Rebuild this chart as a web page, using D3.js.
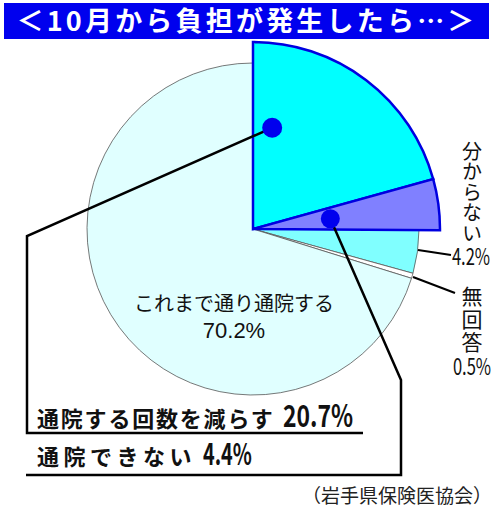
<!DOCTYPE html>
<html>
<head>
<meta charset="utf-8">
<script src="https://cdn.jsdelivr.net/npm/d3@7"></script>
<style>
  body { margin: 0; background: #fff; }
  text { font-family: "Noto Sans CJK JP", sans-serif; }
</style>
</head>
<body>
<div id="chart"></div>
<script>
const categories = ["通院する回数を減らす", "通院できない", "分からない", "無回答", "これまで通り通院する"];
const values = [20.7, 4.4, 4.2, 0.5, 70.2];
const colors = ["#00ffff", "#8080ff", "#80ffff", "#ffffff", "#e0ffff"];
const title = "＜10月から負担が発生したら…＞";
const source = "（岩手県保険医協会）";

const width = 500;
const height = 509;
const cx = 253, cy = 229;
const radius = 166, radiusOut = 187;

const svg = d3.select("#chart")
  .append("svg")
  .attr("width", width)
  .attr("height", height);

// title bar
svg.append("rect")
  .attr("x", 4).attr("y", 3)
  .attr("width", 485).attr("height", 36)
  .attr("fill", "#0000ee");
svg.append("text")
  .attr("x", 247).attr("y", 31)
  .attr("text-anchor", "middle")
  .attr("fill", "#fff")
  .attr("font-size", 27)
  .attr("font-weight", 700)
  .attr("letter-spacing", 3.2)
  .text(title);

const pie = d3.pie().sort(null).value(d => d);
const arcs = pie(values);
const arcIn = d3.arc().innerRadius(0).outerRadius(radius);
const arcOut = d3.arc().innerRadius(0).outerRadius(radiusOut);

const g = svg.append("g").attr("transform", `translate(${cx},${cy})`);

// normal slices first, then the two enlarged ones on top
const small = arcs.filter(d => d.index > 1);
const big = arcs.filter(d => d.index <= 1);

g.selectAll("path.small")
  .data(small)
  .join("path")
  .attr("class", "small")
  .attr("d", arcIn)
  .attr("fill", d => colors[d.index])
  .attr("stroke", "#555")
  .attr("stroke-width", 0.8);

g.selectAll("path.big")
  .data(big)
  .join("path")
  .attr("class", "big")
  .attr("d", arcOut)
  .attr("fill", d => colors[d.index])
  .attr("stroke", "#0000e0")
  .attr("stroke-width", 2.5)
  .attr("stroke-linejoin", "miter");

// dots inside enlarged slices
const dotPos = [{ frac: 0.144, r: 103 }, { frac: 0.5, r: 78 }];
const dots = big.map((d, i) => {
  const a = d.startAngle + (d.endAngle - d.startAngle) * dotPos[i].frac;
  return [cx + dotPos[i].r * Math.sin(a), cy - dotPos[i].r * Math.cos(a)];
});

const line = d3.line();
svg.append("path")
  .attr("d", line([dots[0], [27, 236], [27, 433], [363, 433]]))
  .attr("fill", "none").attr("stroke", "#000").attr("stroke-width", 2.5);
svg.append("path")
  .attr("d", line([dots[1], [401, 380], [401, 475], [26, 475]]))
  .attr("fill", "none").attr("stroke", "#000").attr("stroke-width", 2.5);

svg.selectAll("circle.dot")
  .data(dots)
  .join("circle")
  .attr("class", "dot")
  .attr("cx", d => d[0]).attr("cy", d => d[1])
  .attr("r", (d, i) => i === 0 ? 10 : 9.5)
  .attr("fill", "#0000ee");

// small leaders for 4.2% and 0.5%
svg.append("path")
  .attr("d", line([[418, 250], [451, 255]]))
  .attr("stroke", "#000").attr("stroke-width", 2);
svg.append("path")
  .attr("d", line([[413, 277], [455, 293]]))
  .attr("stroke", "#000").attr("stroke-width", 2);

function pct(v) { return v + "%"; }

function pctText(x, y, v, size, sx, anchor, weight) {
  const t = svg.append("text")
    .attr("transform", `translate(${x},${y}) scale(${sx},1)`)
    .attr("text-anchor", anchor)
    .attr("font-family", "'Liberation Sans', Arial, sans-serif")
    .attr("font-size", size)
    .attr("fill", "#111")
    .text(pct(v));
  if (weight) t.attr("font-weight", weight);
  return t;
}

// vertical labels on the right
function vertical(x, y0, gap, str, size) {
  svg.append("text")
    .attr("x", x).attr("y", y0)
    .style("writing-mode", "vertical-rl")
    .attr("font-size", size)
    .attr("letter-spacing", gap)
    .attr("fill", "#111")
    .text(str);
}
vertical(472, 141, 0.6, categories[2], 20);
pctText(471, 265, values[2], 23, 0.72, "middle");
vertical(472, 286, 2, categories[3], 21);
pctText(472, 375, values[3], 23, 0.72, "middle");

// main slice label (two lines in one text)
const mainLabel = svg.append("text")
  .attr("text-anchor", "middle")
  .attr("fill", "#111");
mainLabel.append("tspan")
  .attr("x", 234).attr("y", 311)
  .attr("font-size", 20)
  .text(categories[4]);
mainLabel.append("tspan")
  .attr("x", 234).attr("y", 338)
  .attr("font-size", 22)
  .attr("font-family", "'Liberation Sans', Arial, sans-serif")
  .text(pct(values[4]));

// bottom labels
svg.append("text")
  .attr("x", 37).attr("y", 427)
  .attr("font-size", 22)
  .attr("font-weight", 700)
  .attr("letter-spacing", 1.8)
  .attr("fill", "#111")
  .text(categories[0]);
pctText(283, 427, values[0], 31, 0.74, "start", 700);

svg.append("text")
  .attr("x", 37).attr("y", 465)
  .attr("font-size", 22)
  .attr("font-weight", 700)
  .attr("letter-spacing", 4.5)
  .attr("fill", "#111")
  .text(categories[1]);
pctText(203, 465, values[1], 30, 0.66, "start", 700);

// source
svg.append("text")
  .attr("x", 492).attr("y", 503)
  .attr("text-anchor", "end")
  .attr("font-size", 19)
  .attr("fill", "#222")
  .text(source);
</script>
</body>
</html>
